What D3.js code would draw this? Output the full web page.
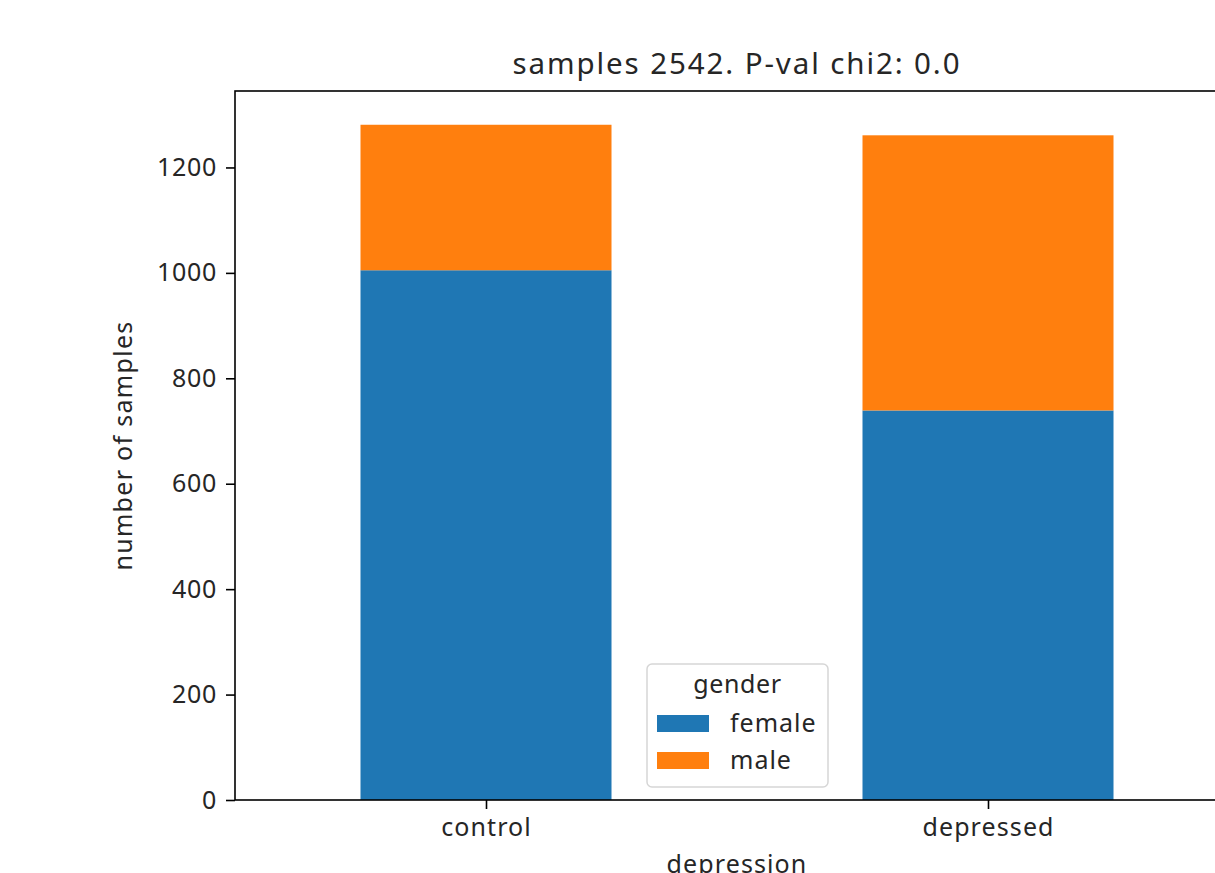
<!DOCTYPE html>
<html>
<head>
<meta charset="utf-8">
<script src="https://cdn.jsdelivr.net/npm/d3@7"></script>
<style>
  html, body { margin: 0; padding: 0; background: #fff; }
  svg { display: block; font-family: "Noto Sans", "Open Sans", sans-serif; }
</style>
</head>
<body>
<svg id="chart" width="1215" height="873"></svg>
<script>
// Counts of samples per depression group, split by gender
const categories = ["control", "depressed"];
const seriesNames = ["female", "male"];
const female = [1005, 739];
const male = [276, 522];
const yTicks = [0, 200, 400, 600, 800, 1000, 1200];
const colors = ["#1f77b4", "#ff7f0e"];
const titleText = "samples 2542. P-val chi2: 0.0";

const svg = d3.select("#chart");
const plotLeft = 235, plotRight = 1239, plotTop = 91, plotBottom = 800;
const fontFamily = "'Noto Sans', 'Open Sans', sans-serif";
const textColor = "#262626";
const labelSize = "25px";

const rows = categories.map((c, i) => ({ cat: c, female: female[i], male: male[i] }));
const stacked = d3.stack().keys(seriesNames)(rows);
const totals = rows.map(r => r.female + r.male);
const yMax = d3.max(totals) * 1.05;

// Linear position scale for category index, bars half a unit wide
const x = d3.scaleLinear().domain([-0.5, categories.length - 0.5]).range([plotLeft, plotRight]);
const y = d3.scaleLinear().domain([0, yMax]).range([plotBottom, plotTop]);
const barW = x(0.5) - x(0);

// Bars
svg.append("g").selectAll("g")
  .data(stacked)
  .join("g")
  .attr("fill", (d, i) => colors[i])
  .selectAll("rect")
  .data(d => d)
  .join("rect")
  .attr("x", (d, i) => x(i) - barW / 2)
  .attr("width", barW)
  .attr("y", d => y(d[1]))
  .attr("height", d => y(d[0]) - y(d[1]));

// Axes
const yAxis = d3.axisLeft(y).tickValues(yTicks).tickSize(9).tickPadding(9).tickFormat(d3.format("d"));
const gy = svg.append("g").attr("transform", `translate(${plotLeft},0)`).call(yAxis);
const xAxis = d3.axisBottom(x).tickValues(categories.map((c, i) => i)).tickSize(9).tickPadding(9)
  .tickFormat(i => categories[i]);
const gx = svg.append("g").attr("transform", `translate(0,${plotBottom})`).call(xAxis);

[gx, gy].forEach(g => {
  g.select(".domain").remove();
  g.selectAll(".tick line").attr("stroke", "#000").attr("stroke-width", 1.6);
  g.selectAll(".tick text").attr("fill", textColor).style("font-size", labelSize)
    .style("font-family", fontFamily);
});
gy.selectAll(".tick text").style("letter-spacing", "0.7px");
gx.selectAll(".tick text").style("letter-spacing", "1.1px");

// Spines
svg.append("rect")
  .attr("x", plotLeft).attr("y", plotTop)
  .attr("width", plotRight - plotLeft).attr("height", plotBottom - plotTop)
  .attr("fill", "none").attr("stroke", "#000").attr("stroke-width", 1.6);

// Title and axis labels
svg.append("text").attr("x", (plotLeft + plotRight) / 2).attr("y", 74)
  .attr("text-anchor", "middle").attr("fill", textColor).style("font-size", "29.5px")
  .style("letter-spacing", "1.9px")
  .text(titleText);
svg.append("text").attr("x", (plotLeft + plotRight) / 2).attr("y", 873)
  .attr("text-anchor", "middle").attr("fill", textColor).style("font-size", labelSize)
  .style("letter-spacing", "1.1px")
  .text("depression");
svg.append("text")
  .attr("transform", `translate(132,${(plotTop + plotBottom) / 2}) rotate(-90)`)
  .attr("text-anchor", "middle").attr("fill", textColor).style("font-size", labelSize)
  .style("letter-spacing", "1.3px")
  .text("number of samples");

// Legend
const lg = svg.append("g").attr("transform", "translate(647,664)");
lg.append("rect").attr("width", 181).attr("height", 123).attr("rx", 5)
  .attr("fill", "#fff").attr("fill-opacity", 0.8).attr("stroke", "#d6d6d6").attr("stroke-width", 1.5);
lg.append("text").attr("x", 90.5).attr("y", 29).attr("text-anchor", "middle")
  .attr("fill", textColor).style("font-size", labelSize).style("letter-spacing", "0.6px").text("gender");
seriesNames.forEach((name, i) => {
  const yy = 51 + i * 37;
  lg.append("rect").attr("x", 10).attr("y", yy).attr("width", 52).attr("height", 17).attr("fill", colors[i]);
  lg.append("text").attr("x", 83).attr("y", yy + 17).attr("fill", textColor).style("font-size", labelSize)
    .style("letter-spacing", "1px").text(name);
});
</script>
</body>
</html>
